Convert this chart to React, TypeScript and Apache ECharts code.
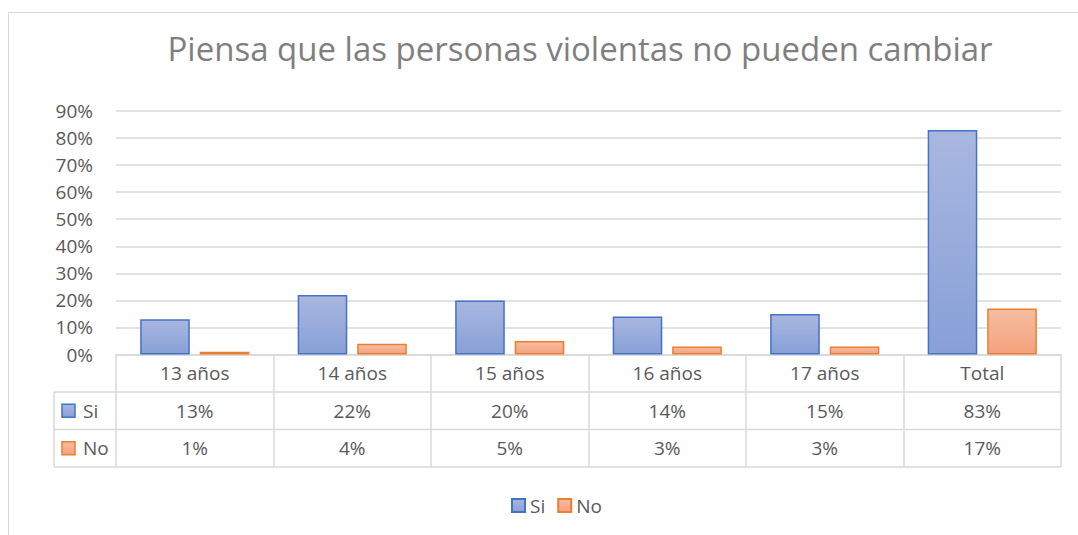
import React, { useEffect, useRef } from "react";
import * as echarts from "echarts";

const titleText = "Piensa que las personas violentas no pueden cambiar";
const categories = ["13 años", "14 años", "15 años", "16 años", "17 años", "Total"];
const seriesNames = ["Si", "No"];
const siValues = [0.13, 0.22, 0.2, 0.14, 0.15, 0.83];
const noValues = [0.01, 0.04, 0.05, 0.03, 0.03, 0.17];
const yTicks = { min: 0, max: 0.9, interval: 0.1 };

const FONT = "'Open Sans', 'Noto Sans', sans-serif";
const TEXT = "#595959";
const LINE = "#d9d9d9";
const FS = 19;

const W = 1078;
const H = 535;
const GRID = { left: 116, right: 17, top: 111, bottom: 180.5 };
const ROW_H = 37.5;

const siFill = () =>
  new echarts.graphic.LinearGradient(0, 0, 0, 1, [
    { offset: 0, color: "#A9B7E0" },
    { offset: 1, color: "#87A0D7" },
  ]);
const noFill = () =>
  new echarts.graphic.LinearGradient(0, 0, 0, 1, [
    { offset: 0, color: "#F6BDA2" },
    { offset: 1, color: "#F4A27C" },
  ]);
const borders = ["#4472C4", "#ED7D31"];
const fills = [siFill, noFill];

const pct = (v: number) => `${Math.round(v * 100)}%`;

export default function App() {
  const ref = useRef<HTMLDivElement>(null);
  useEffect(() => {
    if (!ref.current) return;
    const chart = echarts.init(ref.current, null, { renderer: "svg" });
    const tableTop = H - GRID.bottom;
    const xRight = W - GRID.right;
    const labelColLeft = 54;
    const graphics: any[] = [
      {
        type: "rect",
        shape: { x: 8.5, y: 12.5, width: 1200, height: 700 },
        style: { fill: "none", stroke: LINE, lineWidth: 1 },
        silent: true,
      },
    ];
    for (let r = 1; r <= 3; r++) {
      graphics.push({
        type: "line",
        shape: { x1: labelColLeft, y1: tableTop + r * ROW_H, x2: xRight, y2: tableTop + r * ROW_H },
        style: { stroke: LINE, lineWidth: 1.5 },
        silent: true,
      });
    }
    graphics.push({
      type: "line",
      shape: { x1: labelColLeft, y1: tableTop + ROW_H, x2: labelColLeft, y2: tableTop + 3 * ROW_H },
      style: { stroke: LINE, lineWidth: 1.5 },
      silent: true,
    });
    seriesNames.forEach((name, i) => {
      const cy = tableTop + ROW_H * (i + 1.5);
      graphics.push({
        type: "rect",
        shape: { x: 62, y: cy - 6.5, width: 13, height: 13 },
        style: { fill: fills[i](), stroke: borders[i], lineWidth: 1.5 },
        silent: true,
      });
      graphics.push({
        type: "text",
        x: 83,
        y: cy,
        style: {
          text: name,
          fill: TEXT,
          fontSize: FS,
          fontFamily: FONT,
          textAlign: "left",
          textVerticalAlign: "middle",
        },
        silent: true,
      });
    });

    chart.setOption({
      animation: false,
      title: {
        text: titleText,
        left: 575,
        top: 27,
        textAlign: "center",
        textStyle: { color: "#7f7f7f", fontSize: 33, fontWeight: "normal", fontFamily: FONT },
      },
      grid: { ...GRID, containLabel: false },
      legend: {
        data: seriesNames,
        left: 506,
        top: 491,
        icon: "rect",
        itemWidth: 13,
        itemHeight: 13,
        itemGap: 12,
        textStyle: { color: TEXT, fontSize: FS, fontFamily: FONT },
      },
      xAxis: {
        type: "category",
        data: categories,
        axisLine: { show: true, lineStyle: { color: LINE, width: 1.5 } },
        axisTick: {
          show: true,
          interval: 0,
          length: 3 * ROW_H,
          lineStyle: { color: LINE, width: 1.5 },
        },
        axisLabel: {
          interval: 0,
          margin: 0,
          color: TEXT,
          fontSize: FS,
          fontFamily: FONT,
          lineHeight: ROW_H,
          formatter: (v: string, i: number) => `${v}\n${pct(siValues[i])}\n${pct(noValues[i])}`,
        },
      },
      yAxis: {
        type: "value",
        min: yTicks.min,
        max: yTicks.max,
        interval: yTicks.interval,
        axisLine: { show: false },
        axisTick: { show: false },
        axisLabel: {
          color: TEXT,
          fontSize: FS,
          fontFamily: FONT,
          margin: 23,
          formatter: (v: number) => pct(v),
        },
        splitLine: { lineStyle: { color: LINE, width: 1.5 } },
      },
      series: [
        {
          name: seriesNames[0],
          type: "bar",
          data: siValues,
          barWidth: "31.5%",
          barGap: "20%",
          itemStyle: { color: siFill(), borderColor: borders[0], borderWidth: 1.5 },
        },
        {
          name: seriesNames[1],
          type: "bar",
          data: noValues,
          barWidth: "31.5%",
          barGap: "20%",
          itemStyle: { color: noFill(), borderColor: borders[1], borderWidth: 1.5 },
        },
      ],
      graphic: graphics,
    });
    return () => chart.dispose();
  }, []);
  return (
    <div
      ref={ref}
      style={{ position: "fixed", left: 0, top: 0, width: W, height: H, background: "#fff" }}
    />
  );
}
